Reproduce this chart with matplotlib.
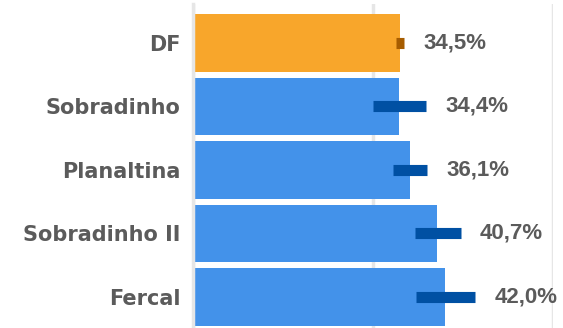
import matplotlib.pyplot as plt

categories = ['DF', 'Sobradinho', 'Planaltina', 'Sobradinho II', 'Fercal']
values = [34.5, 34.4, 36.1, 40.7, 42.0]
ci_low = [33.9, 30.0, 33.3, 37.0, 37.2]
ci_high = [35.2, 38.9, 39.0, 44.6, 47.0]

bar_colors = ['#F8A62B'] + ['#4392EA'] * 4
err_colors = ['#A65C00'] + ['#0050A3'] * 4
text_color = '#5B5B5B'

fig = plt.figure(figsize=(5.63, 3.28), dpi=100)
ax = fig.add_axes([193 / 563, 0, 360 / 563, 324 / 328])

y = list(range(len(categories)))
ax.barh(y, values, height=0.91, color=bar_colors, zorder=2)
ax.hlines(y, ci_low, ci_high, colors=err_colors, linewidth=8, zorder=3)

# percentage labels sit just right of the interval
for yi, v, hi in zip(y, values, ci_high):
    label = f'{v:.1f}%'.replace('.', ',')
    ax.annotate(label, (hi, yi), xytext=(14, 0), textcoords='offset points',
                va='center', ha='left', fontsize=16, fontweight='bold',
                family='Liberation Sans', color=text_color, annotation_clip=False)

ax.set_xlim(0, 60)
ax.set_ylim(4.49, -0.614)
ax.set_xticks([0, 30, 60])
ax.set_xticklabels([])
ax.tick_params(axis='x', length=0)
ax.grid(axis='x', color='#E6E6E6', linewidth=2.5, zorder=0)

ax.set_yticks(y)
ax.set_yticklabels(categories, fontsize=15, fontweight='bold',
                   family='DejaVu Sans', color=text_color)
ax.tick_params(axis='y', length=0, pad=9)

for side in ['top', 'right', 'bottom']:
    ax.spines[side].set_visible(False)
ax.spines['left'].set_color('#E6E6E6')
ax.spines['left'].set_linewidth(2.5)

fig.savefig('out.png', dpi=100)
